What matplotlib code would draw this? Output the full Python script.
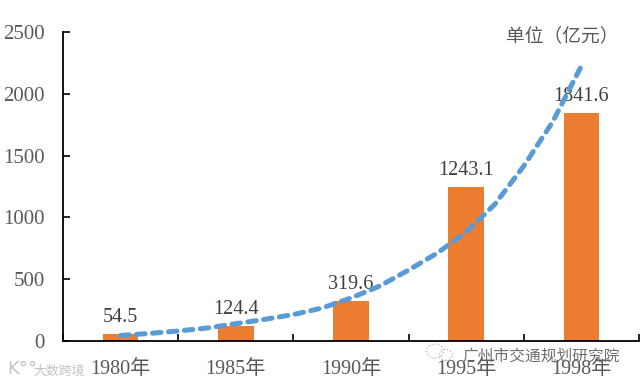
#!/usr/bin/env python
import numpy as np
import matplotlib
matplotlib.use("Agg")
import matplotlib.pyplot as plt
from matplotlib.patches import Ellipse

# font list: latin serif first, CJK falls back
plt.rcParams['font.family'] = ['Liberation Serif', 'Noto Sans CJK SC']

# --- data ---
years = ["1980年", "1985年", "1990年", "1995年", "1998年"]
values = [54.5, 124.4, 319.6, 1243.1, 1841.6]
value_labels = ["54.5", "124.4", "319.6", "1243.1", "1841.6"]
trend_pos = [0, 0.25, 0.5, 0.75, 1, 1.25, 1.5, 1.75, 2,
             2.25, 2.5, 2.75, 3, 3.25, 3.5, 3.75, 4]
trend_vals = [45, 61, 81, 105, 140, 175, 214, 267, 348,
              445, 574, 712, 882, 1108, 1416, 1772, 2225]
y_ticks = [0, 500, 1000, 1500, 2000, 2500]

gray = '#595959'
fig = plt.figure(figsize=(6.4, 3.84), dpi=100)
ax = fig.add_axes([63 / 640, 1 - 341 / 384, 576 / 640, 309 / 384])

x = np.arange(len(years))
ax.bar(x, values, width=0.31, color='#ED7D31', zorder=2)
ax.plot(trend_pos, trend_vals, color='#5B9BD5', lw=3.6, ls=(0, (1.7, 1.5)),
        dash_capstyle='round', zorder=3)

ax.set_xlim(-0.5, 4.5)
ax.set_ylim(0, 2500)
ax.set_yticks(y_ticks)
ax.set_xticks(np.arange(-0.5, 5, 1))
ax.set_xticklabels([])
ax.tick_params(axis='x', direction='in', length=5, width=1.2, color='black')
ax.tick_params(axis='y', direction='in', length=5, width=1.2, color='black',
               labelsize=15, labelcolor=gray, pad=13)
for s in ['top', 'right']:
    ax.spines[s].set_visible(False)
for s in ['left', 'bottom']:
    ax.spines[s].set_linewidth(1.3)

# category labels sit between the ticks
for i, yr in enumerate(years):
    ax.annotate(yr, (i, 0), xytext=(0, -19), textcoords='offset pixels',
                ha='center', va='top', fontsize=14.5, color=gray)
for i, lab in enumerate(value_labels):
    ax.annotate(lab, (i, values[i]), xytext=(0, 7), textcoords='offset pixels',
                ha='center', va='bottom', fontsize=14.5, color='#404040', zorder=2.5)

fig.text(506 / 640, 1 - 36 / 384, "单位（亿元）", fontsize=13.5, color=gray, va='center', ha='left')

# watermarks
fig.text(7 / 640, 1 - 369 / 384, "K°°", fontsize=13, color='#c4c4c4', va='center',
         family=['DejaVu Sans'])
fig.text(33 / 640, 1 - 371 / 384, "大数跨境", fontsize=9.3, color='#c4c4c4', va='center',
         family=['Noto Sans CJK SC'])
fig.text(462 / 640, 1 - 356 / 384, "广州市交通规划研究院", fontsize=11.3, color='#707070', va='center',
         family=['Noto Sans CJK SC'])
# wechat bubbles next to the watermark text
for cx, cy, w, h in [(435, 351, 17, 14), (446, 355, 13, 11)]:
    fig.add_artist(Ellipse((cx / 640, 1 - cy / 384), w / 640, h / 384, fill=False,
                           ec='#b5b5b5', lw=0.9, ls=':', transform=fig.transFigure))

plt.savefig('out.png', dpi=100)
